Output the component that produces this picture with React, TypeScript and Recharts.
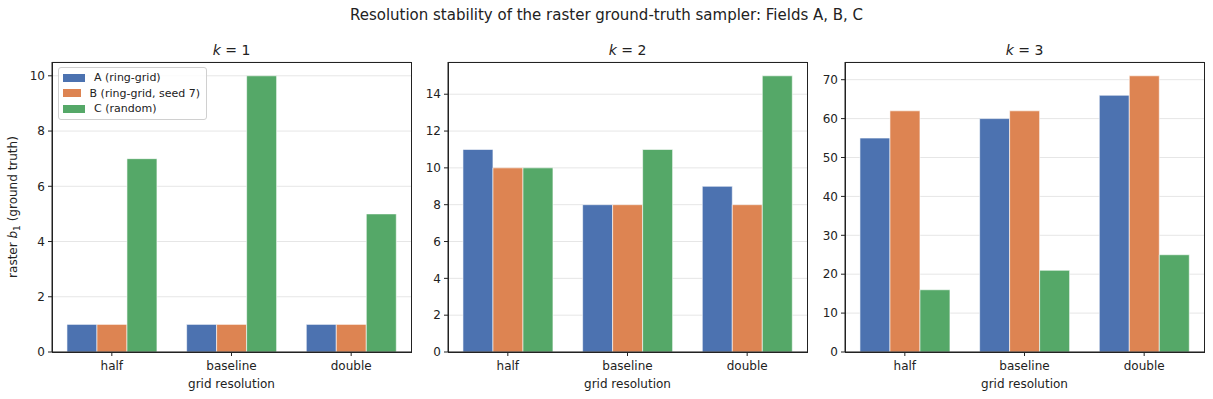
import React from 'react';
import { BarChart, Bar, XAxis, YAxis, CartesianGrid } from 'recharts';

const categories = ['half', 'baseline', 'double'];

const k1A = [1, 1, 1];
const k1B = [1, 1, 1];
const k1C = [7, 10, 5];

const k2A = [11, 8, 9];
const k2B = [10, 8, 8];
const k2C = [10, 11, 15];

const k3A = [55, 60, 66];
const k3B = [62, 62, 71];
const k3C = [16, 21, 25];

const k1Ticks = [0, 2, 4, 6, 8, 10];
const k2Ticks = [0, 2, 4, 6, 8, 10, 12, 14];
const k3Ticks = [0, 10, 20, 30, 40, 50, 60, 70];

const seriesNames = ['A (ring-grid)', 'B (ring-grid, seed 7)', 'C (random)'];
const colors = ['#4C72B0', '#DD8452', '#55A868'];

const FONT = '"DejaVu Sans", sans-serif';

function rows(a: number[], b: number[], c: number[]) {
    return categories.map((cat, i) => ({ cat, A: a[i], B: b[i], C: c[i] }));
}

const panels = [
    { k: 1, data: rows(k1A, k1B, k1C), ticks: k1Ticks, max: 10.5, left: 0, plotLeft: 52, plotRight: 411, legend: true, ylabel: true },
    { k: 2, data: rows(k2A, k2B, k2C), ticks: k2Ticks, max: 15.75, left: 411, plotLeft: 448, plotRight: 807, legend: false, ylabel: false },
    { k: 3, data: rows(k3A, k3B, k3C), ticks: k3Ticks, max: 74.55, left: 807, plotLeft: 845, plotRight: 1204, legend: false, ylabel: false },
];

const TOP = 62;
const BOTTOM = 352;
const H = 399;

function LegendBox() {
    return (
        <div style={{
            position: 'absolute', left: 58, top: 67, boxSizing: 'border-box',
            border: '1px solid #d0d0d0', borderRadius: 3, background: 'rgba(255,255,255,0.8)',
            padding: '2px 6px 2px 4px', fontFamily: FONT, fontSize: 11, color: '#222', width: 149,
            whiteSpace: 'nowrap',
        }}>
            {seriesNames.map((n, i) => (
                <div key={n} style={{ display: 'flex', alignItems: 'center', height: 15.5 }}>
                    <span style={{ display: 'inline-block', width: 22, height: 8, background: colors[i], marginRight: 9 }} />
                    <span>{n}</span>
                </div>
            ))}
        </div>
    );
}

function YLabel() {
    const cx = 17;
    const cy = (TOP + BOTTOM) / 2;
    return (
        <text x={cx} y={cy} transform={`rotate(-90 ${cx} ${cy})`} textAnchor="middle" fontFamily={FONT} fontSize={12} fill="#222">
            raster <tspan fontStyle="italic">b</tspan><tspan fontSize={9} dy={3}>1</tspan><tspan dy={-3}> (ground truth)</tspan>
        </text>
    );
}

function XLabel(props: any) {
    const vb = props.viewBox || {};
    const cx = vb.x + vb.width / 2;
    return (
        <text x={cx} y={388} textAnchor="middle" fontFamily={FONT} fontSize={12} fill="#222">grid resolution</text>
    );
}

function Panel({ p }: { p: typeof panels[number] }) {
    const width = p.plotRight - p.left + 9;
    const yw = p.plotLeft - p.left;
    return (
        <div style={{ position: 'absolute', left: p.left, top: 0, width, height: H }}>
            <div style={{
                position: 'absolute', left: yw, width: p.plotRight - p.plotLeft, top: 42, textAlign: 'center',
                fontFamily: FONT, fontSize: 14, color: '#222',
            }}>
                <span style={{ fontStyle: 'italic' }}>k</span> = {p.k}
            </div>
            <BarChart
                width={width}
                height={H}
                data={p.data}
                margin={{ top: TOP, right: width - (p.plotRight - p.left), bottom: 0, left: 0 }}
                barCategoryGap="12.5%"
                barGap={0}
            >
                <CartesianGrid vertical={false} stroke="#e6e6e6" strokeWidth={1} />
                <XAxis
                    dataKey="cat"
                    height={H - BOTTOM}
                    tick={{ fontFamily: FONT, fontSize: 12, fill: '#222' }}
                    tickSize={4}
                    tickMargin={5}
                    tickLine={{ stroke: '#222' }}
                    axisLine={{ stroke: '#222' }}
                    label={<XLabel />}
                />
                <YAxis
                    width={yw}
                    domain={[0, p.max]}
                    ticks={p.ticks}
                    allowDataOverflow
                    tick={{ fontFamily: FONT, fontSize: 12, fill: '#222' }}
                    tickSize={4}
                    tickMargin={3}
                    tickLine={{ stroke: '#222' }}
                    axisLine={{ stroke: '#222' }}
                    label={p.ylabel ? <YLabel /> : undefined}
                />
                <Bar dataKey="A" name={seriesNames[0]} fill={colors[0]} stroke="#ffffff" strokeWidth={0.6} isAnimationActive={false} />
                <Bar dataKey="B" name={seriesNames[1]} fill={colors[1]} stroke="#ffffff" strokeWidth={0.6} isAnimationActive={false} />
                <Bar dataKey="C" name={seriesNames[2]} fill={colors[2]} stroke="#ffffff" strokeWidth={0.6} isAnimationActive={false} />
            </BarChart>
            <div style={{
                position: 'absolute', left: yw, top: TOP - 0.5, width: p.plotRight - p.plotLeft + 0.5, height: BOTTOM - TOP + 1,
                boxSizing: 'border-box', border: '1px solid #222', pointerEvents: 'none',
            }} />
            {p.legend && <LegendBox />}
        </div>
    );
}

export default function App() {
    return (
        <div style={{ position: 'absolute', left: 0, top: 0, width: 1213, height: H, background: '#fff' }}>
            <div style={{
                position: 'absolute', left: 0, top: 6, width: 1213, textAlign: 'center',
                fontFamily: FONT, fontSize: 15, color: '#222',
            }}>
                Resolution stability of the raster ground-truth sampler: Fields A, B, C
            </div>
            {panels.map((p) => <Panel key={p.k} p={p} />)}
        </div>
    );
}
